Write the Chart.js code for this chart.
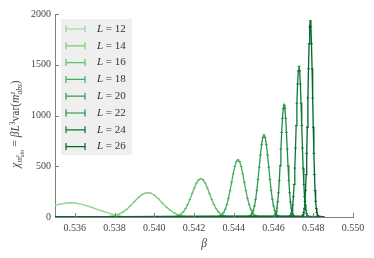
<!DOCTYPE html>
<html>
<head>
<meta charset="utf-8">
<script src="https://cdn.jsdelivr.net/npm/chart.js@4.4.0/dist/chart.umd.min.js"></script>
<style>
  html, body { margin: 0; padding: 0; background: #fff; }
</style>
</head>
<body>
<canvas id="chart" width="374" height="258"></canvas>
<script>
const FONT = "'Liberation Serif', 'DejaVu Serif', serif";

const sizes = [12, 14, 16, 18, 20, 22, 24, 26];
const colors = ['#98d594', '#7ec97e', '#63bb6d', '#46ad5f', '#329b51', '#218944', '#0d7835', '#006529'];
const xTicks = [0.536, 0.538, 0.540, 0.542, 0.544, 0.546, 0.548, 0.550];
const yTicks = [0, 500, 1000, 1500, 2000];

const beta12 = [0.5344, 0.5346, 0.5348, 0.5350, 0.5352, 0.5354, 0.5356, 0.5358, 0.5360, 0.5362, 0.5364, 0.5366, 0.5368, 0.5370,
  0.5372, 0.5374, 0.5376, 0.5378, 0.5380, 0.5382, 0.5384, 0.5386, 0.5388, 0.5390, 0.5420, 0.5450, 0.5485];
const chi12 = [84, 95, 105, 114, 124, 132, 138, 140, 138, 132, 123, 111, 98, 85,
  71, 58, 45, 33, 22, 13, 7, 3, 1, 0, 0, 0, 0];

const beta14 = [0.5350, 0.5374, 0.5376, 0.5378, 0.5380, 0.5382, 0.5384, 0.5386, 0.5388, 0.5390, 0.5392, 0.5394, 0.5396,
  0.5398, 0.5400, 0.5402, 0.5404, 0.5406, 0.5408, 0.5410, 0.5412, 0.5414, 0.5416, 0.5418, 0.5450, 0.5485];
const chi14 = [0, 2, 4, 8, 14, 27, 46, 75, 111, 152, 192, 223, 239,
  236, 215, 180, 139, 99, 66, 40, 22, 11, 5, 2, 0, 0];

const beta16 = [0.5350, 0.54091, 0.54102, 0.54113, 0.54124, 0.54135, 0.54146, 0.54157, 0.54168, 0.54179, 0.54190, 0.54201,
  0.54212, 0.54223, 0.54234, 0.54245, 0.54256, 0.54267, 0.54278, 0.54289, 0.54300, 0.54311, 0.54322, 0.54333,
  0.54344, 0.54355, 0.54366, 0.54377, 0.5485];
const chi16 = [0, 2, 4, 9, 17, 30, 51, 82, 123, 173, 229, 285,
  334, 366, 378, 366, 334, 285, 229, 173, 123, 82, 51, 30,
  17, 9, 4, 2, 0];

const beta18 = [0.5350, 0.54317, 0.54325, 0.54333, 0.54341, 0.54349, 0.54357, 0.54365, 0.54373, 0.54381, 0.54389, 0.54397,
  0.54405, 0.54413, 0.54421, 0.54429, 0.54437, 0.54445, 0.54453, 0.54461, 0.54469, 0.54477, 0.54485, 0.54493,
  0.54501, 0.54509, 0.54517, 0.54525, 0.5485];
const chi18 = [0, 3, 6, 13, 25, 45, 76, 122, 183, 259, 343, 426,
  499, 547, 565, 547, 499, 426, 343, 259, 183, 122, 76, 45,
  25, 13, 6, 3, 0];

const beta20 = [0.5350, 0.54474, 0.54480, 0.54486, 0.54492, 0.54498, 0.54504, 0.54510, 0.54516, 0.54522, 0.54528, 0.54534,
  0.54540, 0.54546, 0.54552, 0.54558, 0.54564, 0.54570, 0.54576, 0.54582, 0.54588, 0.54594, 0.54600, 0.54606,
  0.54612, 0.54618, 0.54624, 0.54630, 0.5485];
const chi20 = [0, 4, 9, 18, 35, 64, 109, 175, 262, 370, 490, 610,
  713, 783, 808, 783, 713, 610, 490, 370, 262, 175, 109, 64,
  35, 18, 9, 4, 0];

const beta22 = [0.5350, 0.54601, 0.54605, 0.54609, 0.54613, 0.54617, 0.54621, 0.54625, 0.54629, 0.54633, 0.54637, 0.54641,
  0.54645, 0.54649, 0.54653, 0.54657, 0.54661, 0.54665, 0.54669, 0.54673, 0.54677, 0.54681, 0.54685, 0.54689,
  0.54693, 0.54697, 0.54701, 0.54705, 0.5485];
const chi22 = [0, 6, 12, 25, 48, 88, 149, 239, 358, 505, 669, 833,
  973, 1069, 1103, 1069, 973, 833, 669, 505, 358, 239, 149, 88,
  48, 25, 12, 6, 0];

const beta24 = [0.5350, 0.546825, 0.546860, 0.546895, 0.546930, 0.546965, 0.547000, 0.547035, 0.547070, 0.547105, 0.547140,
  0.547175, 0.547210, 0.547245, 0.547280, 0.547315, 0.547350, 0.547385, 0.547420, 0.547455, 0.547490, 0.547525,
  0.547560, 0.547595, 0.547630, 0.547665, 0.547700, 0.547735, 0.5485];
const chi24 = [0, 8, 16, 34, 65, 118, 201, 321, 482, 680, 901,
  1121, 1311, 1439, 1485, 1439, 1311, 1121, 901, 680, 482, 321,
  201, 118, 65, 34, 16, 8, 0];

const beta26 = [0.5350, 0.54746, 0.54749, 0.54752, 0.54755, 0.54758, 0.54761, 0.54764, 0.54767, 0.54770, 0.54773, 0.54776,
  0.54779, 0.54782, 0.54785, 0.54788, 0.54791, 0.54794, 0.54797, 0.54800, 0.54803, 0.54806, 0.54809, 0.54812,
  0.54815, 0.54818, 0.54821, 0.54824, 0.5485];
const chi26 = [0, 10, 21, 44, 85, 154, 262, 418, 628, 885, 1173, 1460,
  1707, 1874, 1934, 1874, 1707, 1460, 1173, 885, 628, 418, 262, 154,
  85, 44, 21, 10, 0];

const betas = [beta12, beta14, beta16, beta18, beta20, beta22, beta24, beta26];
const chis = [chi12, chi14, chi16, chi18, chi20, chi22, chi24, chi26];

// y label pieces: [text, size, italic, dy] ; stacked sup/sub as [[sup, sub], size, italic, [dySup, dySub]]
const yTitleRuns = [
  ['χ', 11.5, true, 0],
  ['m', 7.5, true, 2.5],
  [['z', 'abs'], 5.5, true, [-0.5, 5]],
  [' = ', 11.5, false, 0],
  ['βL', 11.5, true, 0],
  ['3', 7.5, false, -4],
  ['var(', 11.5, false, 0],
  ['m', 11.5, true, 0],
  [['z', 'abs'], 7.5, true, [-4, 3]],
  [')', 11.5, false, 0]
];

function fontOf(size, italic) {
  return `${italic ? 'italic ' : ''}${size}px ${FONT}`;
}

function drawYTitle(ctx, cx, cy) {
  const widths = yTitleRuns.map(([t, s, it]) => {
    ctx.font = fontOf(s, it);
    return Array.isArray(t) ? Math.max(...t.map(u => ctx.measureText(u).width)) : ctx.measureText(t).width;
  });
  const total = widths.reduce((a, b) => a + b, 0);
  ctx.save();
  ctx.translate(cx, cy);
  ctx.rotate(-Math.PI / 2);
  ctx.textAlign = 'left';
  ctx.textBaseline = 'alphabetic';
  let px = -total / 2;
  yTitleRuns.forEach(([t, s, it, dy], i) => {
    ctx.font = fontOf(s, it);
    if (Array.isArray(t)) {
      ctx.fillText(t[0], px, 4 + dy[0]);
      ctx.fillText(t[1], px, 4 + dy[1]);
    } else {
      ctx.fillText(t, px, 4 + dy);
    }
    px += widths[i];
  });
  ctx.restore();
}

const decor = {
  id: 'decor',
  afterDraw(chart) {
    const { ctx, chartArea: a, scales: { x, y } } = chart;
    ctx.save();

    // inward ticks
    ctx.strokeStyle = '#808080';
    ctx.lineWidth = 1;
    xTicks.forEach(v => {
      const px = Math.round(x.getPixelForValue(v)) + 0.5;
      ctx.beginPath(); ctx.moveTo(px, a.bottom); ctx.lineTo(px, a.bottom - 4); ctx.stroke();
    });
    yTicks.forEach(v => {
      const py = Math.round(y.getPixelForValue(v)) + 0.5;
      ctx.beginPath(); ctx.moveTo(a.left, py); ctx.lineTo(a.left + 4, py); ctx.stroke();
    });

    // axis titles
    ctx.fillStyle = '#444';
    ctx.font = fontOf(11.5, true);
    ctx.textAlign = 'center';
    ctx.textBaseline = 'middle';
    ctx.fillText('β', (a.left + a.right) / 2, 244);
    drawYTitle(ctx, 15, 124);

    // legend
    const lx = 61, ly = 19, lw = 71, lh = 136;
    ctx.fillStyle = 'rgba(235,235,235,0.8)';
    ctx.fillRect(lx, ly, lw, lh);
    sizes.forEach((L, i) => {
      const cy = 29 + i * 16.8;
      ctx.strokeStyle = colors[i];
      ctx.lineWidth = 1.2;
      ctx.beginPath();
      ctx.moveTo(66, cy); ctx.lineTo(85, cy);
      ctx.moveTo(66, cy - 3.5); ctx.lineTo(66, cy + 3.5);
      ctx.moveTo(85, cy - 3.5); ctx.lineTo(85, cy + 3.5);
      ctx.stroke();
      ctx.fillStyle = '#333';
      ctx.textAlign = 'left';
      ctx.textBaseline = 'middle';
      ctx.font = fontOf(11, true);
      ctx.fillText('L', 97, cy);
      const w = ctx.measureText('L').width;
      ctx.font = fontOf(11, false);
      ctx.fillText(' = ' + L, 97 + w, cy);
    });

    ctx.restore();
  }
};

const datasets = sizes.map((L, i) => ({
  label: `L = ${L}`,
  data: betas[i].map((b, k) => ({ x: b, y: chis[i][k] })),
  borderColor: colors[i],
  backgroundColor: colors[i],
  borderWidth: 1.3,
  pointStyle: 'line',
  pointRadius: 1.3,
  pointBorderWidth: 1,
  pointBorderColor: colors[i],
  tension: 0,
  order: sizes.length - 1 - i
}));

new Chart(document.getElementById('chart'), {
  type: 'line',
  data: { datasets },
  options: {
    responsive: false,
    animation: false,
    layout: { padding: { left: 0, right: 21, top: 14, bottom: 0 } },
    plugins: { legend: { display: false }, tooltip: { enabled: false } },
    scales: {
      x: {
        type: 'linear',
        min: 0.535,
        max: 0.550,
        afterBuildTicks: axis => { axis.ticks = xTicks.map(v => ({ value: v })); },
        afterFit: axis => { axis.height = 41; },
        grid: { display: false, drawTicks: false, tickLength: 0 },
        border: { display: true, color: '#808080', width: 1 },
        ticks: {
          padding: 5,
          color: '#444',
          font: { family: FONT, size: 10 },
          maxRotation: 0,
          callback: v => v.toFixed(3)
        }
      },
      y: {
        min: 0,
        max: 2000,
        afterBuildTicks: axis => { axis.ticks = yTicks.map(v => ({ value: v })); },
        afterFit: axis => { axis.width = 55; },
        grid: { display: false, drawTicks: false, tickLength: 0 },
        border: { display: true, color: '#808080', width: 1 },
        ticks: {
          padding: 4,
          color: '#444',
          font: { family: FONT, size: 10 },
          callback: v => String(v)
        }
      }
    }
  },
  plugins: [decor]
});
</script>
</body>
</html>
